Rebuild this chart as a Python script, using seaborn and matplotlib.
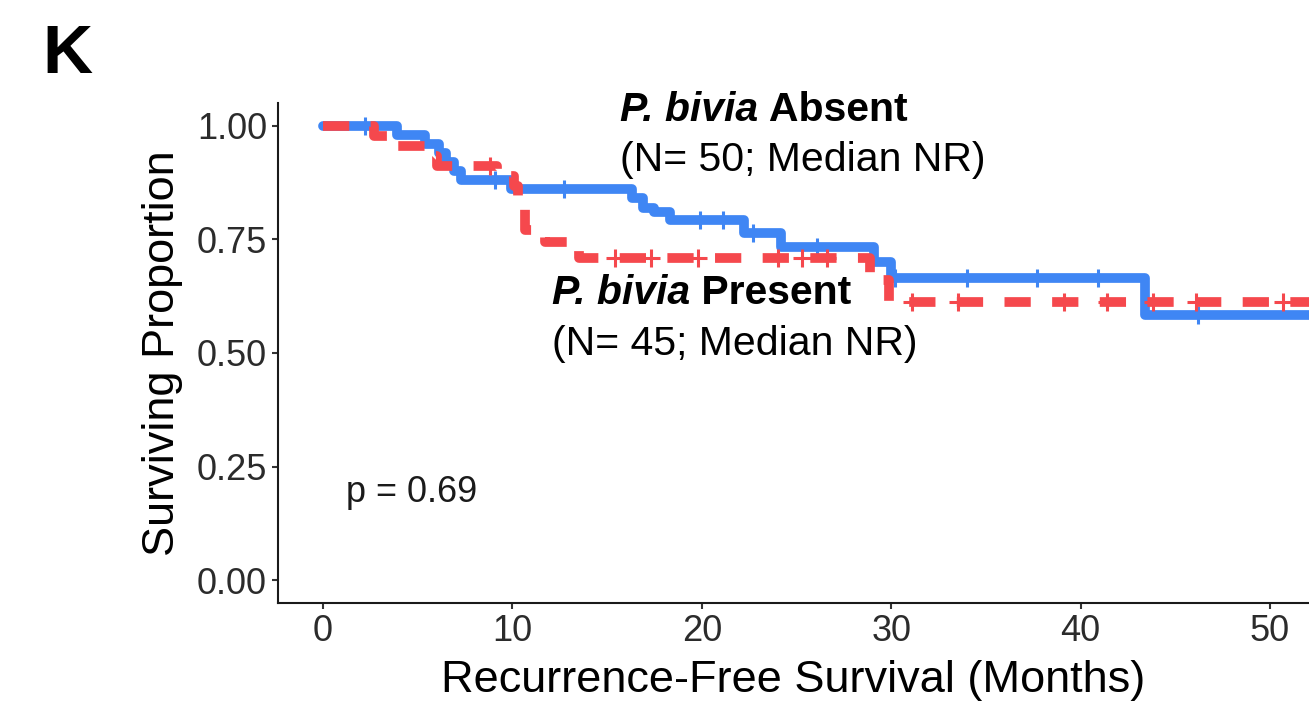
import numpy as np
import pandas as pd
import matplotlib
matplotlib.use("Agg")
import matplotlib.pyplot as plt
import seaborn as sns

# ---------------- data ----------------
absent_times = [0.0, 3.9, 5.4, 6.1, 6.5, 6.9, 7.3, 9.9, 16.3, 16.9, 17.5, 18.3, 22.2, 24.2, 29.1, 30.0, 43.4]
absent_surv = [1.0, 0.98, 0.96, 0.94, 0.92, 0.90, 0.88, 0.86, 0.84, 0.82, 0.81, 0.793, 0.764, 0.733, 0.70, 0.665, 0.584]
absent_censor = [2.2, 9.1, 12.7, 19.9, 21.1, 22.7, 26.1, 30.2, 34.0, 37.7, 40.9, 46.2]

present_times = [0.0, 2.7, 3.4, 5.6, 6.0, 9.2, 10.1, 10.3, 10.5, 10.65, 11.7, 13.5, 28.9, 29.9]
present_surv = [1.0, 0.978, 0.956, 0.933, 0.911, 0.889, 0.867, 0.844, 0.82, 0.77, 0.745, 0.709, 0.66, 0.612]
present_censor = [8.8, 15.4, 17.3, 19.8, 24.0, 25.3, 26.6, 31.1, 33.5, 39.1, 41.4, 43.8, 46.1, 50.7]

end_time = 53.0
x_ticks = [0, 10, 20, 30, 40, 50]
y_ticks = [0.0, 0.25, 0.50, 0.75, 1.00]
y_ticklabels = ["0.00", "0.25", "0.50", "0.75", "1.00"]

BLUE = "#3F86F4"
RED = "#F5484D"

# ---------------- style ----------------
sns.set_style("ticks")
plt.rcParams["font.family"] = ["Liberation Sans", "DejaVu Sans"]
plt.rcParams["text.color"] = "black"

W, H = 1309, 702
fig = plt.figure(figsize=(W / 100, H / 100), dpi=100)
ax = fig.add_axes([278 / W, (H - 603) / H, 1 - 278 / W, (603 - 103) / H])


def step_frame(times, surv):
    return pd.DataFrame({"t": list(times) + [end_time], "s": list(surv) + [surv[-1]]})


def censor_frame(times, surv, ctimes):
    idx = np.searchsorted(np.asarray(times), np.asarray(ctimes), side="right") - 1
    return pd.DataFrame({"t": ctimes, "s": np.asarray(surv)[idx]})


lw = 7.0
# Absent (blue, solid)
sns.lineplot(data=step_frame(absent_times, absent_surv), x="t", y="s",
             drawstyle="steps-post", color=BLUE, linewidth=lw,
             estimator=None, sort=False, ax=ax)
ax.lines[-1].set_solid_joinstyle("round")
sns.scatterplot(data=censor_frame(absent_times, absent_surv, absent_censor), x="t", y="s",
                marker="+", s=160, color=BLUE, linewidth=2.2, ax=ax, zorder=3)

# Present (red, dashed)
sns.lineplot(data=step_frame(present_times, present_surv), x="t", y="s",
             drawstyle="steps-post", color=RED, linewidth=lw,
             estimator=None, sort=False, ax=ax)
red_line = ax.lines[-1]
red_line.set_linestyle((0, (2.7, 2.2)))
red_line.set_dash_capstyle("butt")
red_line.set_zorder(4)
sns.scatterplot(data=censor_frame(present_times, present_surv, present_censor), x="t", y="s",
                marker="+", s=180, color=RED, linewidth=2.2, ax=ax, zorder=5)

# ---------------- axes ----------------
ax.set_xlim(-2.38, 52.06)
ax.set_ylim(-0.05, 1.05)
ax.set_xticks(x_ticks)
ax.set_yticks(y_ticks)
ax.set_yticklabels(y_ticklabels)
for s in ["top", "right"]:
    ax.spines[s].set_visible(False)
for s in ["left", "bottom"]:
    ax.spines[s].set_linewidth(1.5)
    ax.spines[s].set_color("#1a1a1a")
ax.tick_params(axis="both", labelsize=26, length=4, width=1.5, color="#333333",
               labelcolor="#2b2b2b", pad=4)
ax.set_xlabel("Recurrence-Free Survival (Months)", fontsize=32.5, color="black", labelpad=8)
ax.set_ylabel("Surviving Proportion", fontsize=32.5, color="black", labelpad=10)

# ---------------- annotations ----------------
TXT = 29.5
t1 = ax.text(15.7, 1.035, "P. bivia", fontsize=TXT, fontweight="bold", fontstyle="italic",
             ha="left", va="center", clip_on=False, color="black")
ax.annotate(" Absent", xy=(1, 0), xycoords=t1, ha="left", va="bottom",
            fontsize=TXT, fontweight="bold", color="black")
ax.text(15.7, 0.925, "(N= 50; Median NR)", fontsize=TXT, ha="left", va="center", color="black")

t2 = ax.text(12.1, 0.633, "P. bivia", fontsize=TXT, fontweight="bold", fontstyle="italic",
             ha="left", va="center", color="black")
ax.annotate(" Present", xy=(1, 0), xycoords=t2, ha="left", va="bottom",
            fontsize=TXT, fontweight="bold", color="black")
ax.text(12.1, 0.519, "(N= 45; Median NR)", fontsize=TXT, ha="left", va="center", color="black")

ax.text(1.2, 0.193, "p = 0.69", fontsize=26, ha="left", va="center", color="#1a1a1a")

fig.text(42 / W, 1 - 55 / H, "K", fontsize=50, fontweight="bold", ha="left", va="center",
         color="black")

fig.savefig("out.png", dpi=100)
